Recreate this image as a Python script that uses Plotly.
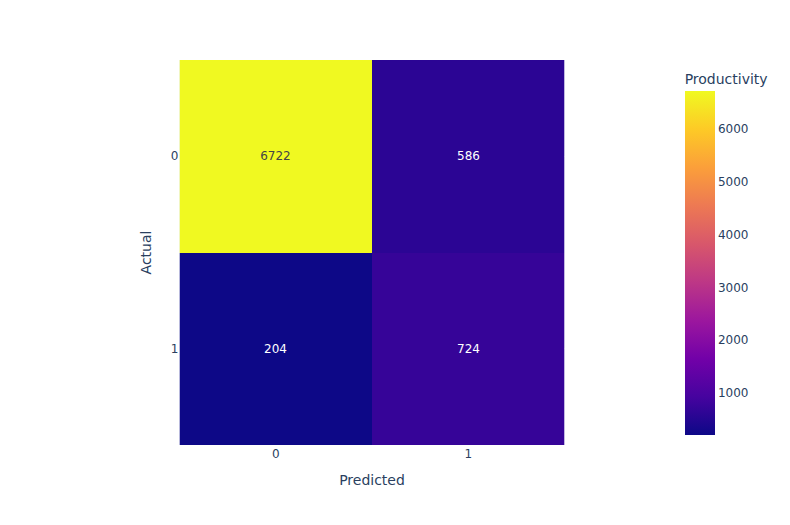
import plotly.express as px

predicted_labels = ["0", "1"]
actual_labels = ["0", "1"]
row_actual_0 = [6722, 586]
row_actual_1 = [204, 724]

z = [row_actual_0, row_actual_1]

fig = px.imshow(
    z,
    x=predicted_labels,
    y=actual_labels,
    text_auto=True,
    color_continuous_scale="Plasma",
    labels=dict(x="Predicted", y="Actual", color="Productivity"),
)
fig.update_layout(
    width=790,
    height=525,
    font=dict(family="DejaVu Sans, Verdana, sans-serif"),
    margin=dict(t=52, b=88, l=73, r=135),
)
fig.write_html("out.html")
